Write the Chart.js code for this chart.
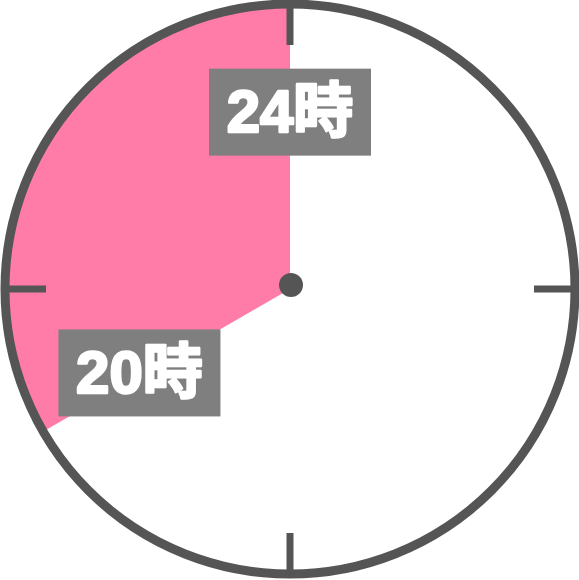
<!DOCTYPE html>
<html>
<head>
<meta charset="utf-8">
<script src="https://cdn.jsdelivr.net/npm/chart.js@4.4.1/dist/chart.umd.min.js"></script>
<style>
  html, body { margin: 0; padding: 0; background: #ffffff; }
  #clock { display: block; }
</style>
</head>
<body>
<canvas id="clock" width="579" height="580"></canvas>
<script>
// 12時間の文字盤: 0時から20時(8時の位置)までは白、20時〜24時がピンク
const segments = ["0時〜20時", "20時〜24時"];
const hours = [8, 4];
const segmentColors = ["#ffffff", "#ff7ca8"];

// 文字盤の目盛り（12時間表記）と時刻ラベル
const tickHours = [0, 3, 6, 9];
const markHours = [24, 20];
const markLabels = ["24時", "20時"];

const ringColor = "#555555";
const boxColor = "#7f7f7f";

function hourAngle(h) {
  return -Math.PI / 2 + ((h % 12) / 12) * Math.PI * 2;
}

const clockFace = {
  id: "clockFace",
  afterDatasetsDraw(chart) {
    const ctx = chart.ctx;
    const arc = chart.getDatasetMeta(0).data[0];
    const cx = arc.x;
    const cy = arc.y;
    const r = arc.outerRadius;

    ctx.save();
    // 外周
    ctx.strokeStyle = ringColor;
    ctx.lineWidth = 9;
    ctx.beginPath();
    ctx.arc(cx, cy, r, 0, Math.PI * 2);
    ctx.stroke();

    // 目盛り
    ctx.lineWidth = 7;
    tickHours.forEach(function (h) {
      const a = hourAngle(h);
      ctx.beginPath();
      ctx.moveTo(cx + Math.cos(a) * (r - 41), cy + Math.sin(a) * (r - 41));
      ctx.lineTo(cx + Math.cos(a) * r, cy + Math.sin(a) * r);
      ctx.stroke();
    });

    // 中心の点
    ctx.fillStyle = ringColor;
    ctx.beginPath();
    ctx.arc(cx + 1, cy - 4, 12, 0, Math.PI * 2);
    ctx.fill();

    // 時刻ラベル
    ctx.font = 'bold 60px "Liberation Sans", "Noto Sans CJK JP", sans-serif';
    ctx.textAlign = "center";
    ctx.textBaseline = "alphabetic";
    ctx.lineJoin = "round";
    markHours.forEach(function (h, i) {
      const a = hourAngle(h);
      const lx = cx + Math.cos(a) * r * 0.61;
      const ly = cy + Math.sin(a) * r * 0.61 - 3;
      const w = 162;
      const hgt = 87;
      ctx.fillStyle = boxColor;
      ctx.fillRect(lx - w / 2, ly - hgt / 2, w, hgt);
      ctx.fillStyle = "#ffffff";
      ctx.strokeStyle = "#ffffff";
      ctx.lineWidth = 2.5;
      ctx.fillText(markLabels[i], lx, ly + 20);
      ctx.strokeText(markLabels[i], lx, ly + 20);
    });
    ctx.restore();
  },
};

const chart = new Chart(document.getElementById("clock").getContext("2d"), {
  type: "pie",
  data: {
    labels: segments,
    datasets: [
      {
        data: hours,
        backgroundColor: segmentColors,
        borderWidth: 0,
      },
    ],
  },
  options: {
    responsive: false,
    animation: false,
    layout: {
      padding: { left: 5, right: 4, top: 4, bottom: 6 },
    },
    plugins: {
      legend: { display: false },
      tooltip: { enabled: false },
    },
  },
  plugins: [clockFace],
});
</script>
</body>
</html>
